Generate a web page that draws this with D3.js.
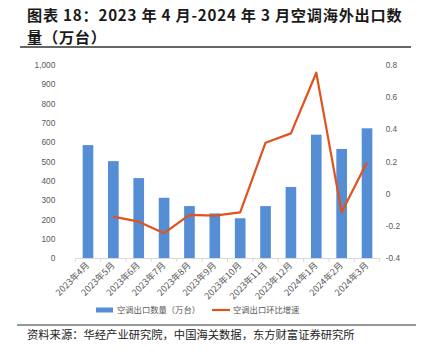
<!DOCTYPE html>
<html><head><meta charset="utf-8">
<script src="https://cdn.jsdelivr.net/npm/d3@7"></script>
<style>
html,body{margin:0;padding:0;background:#fff;}
svg{display:block;font-family:"Noto Sans CJK SC","Noto Sans",sans-serif;}
</style></head>
<body>
<svg id="c" width="423" height="359"></svg>
<script>
const categories = ["2023年4月","2023年5月","2023年6月","2023年7月","2023年8月","2023年9月","2023年10月","2023年11月","2023年12月","2024年1月","2024年2月","2024年3月"];
const exportVolume = [585, 502, 414, 312, 269, 231, 206, 269, 368, 639, 565, 672];
const momGrowth = [null, -0.143, -0.174, -0.246, -0.132, -0.136, -0.116, 0.317, 0.375, 0.752, -0.116, 0.195];
const leftTicks = [0,100,200,300,400,500,600,700,800,900,1000];
const rightTicks = [-0.4,-0.2,0,0.2,0.4,0.6,0.8];
const seriesNames = ["空调出口数量（万台）","空调出口环比增速"];
const titleLines = ["图表 18：2023 年 4 月-2024 年 3 月空调海外出口数","量（万台）"];
const sourceText = "资料来源：华经产业研究院，中国海关数据，东方财富证券研究所";

const svg = d3.select("#c");
const plotL = 75.3, plotR = 379.7, plotT = 65, plotB = 258;
const x = d3.scaleBand().domain(categories).range([plotL, plotR]).paddingInner(0).paddingOuter(0);
const yL = d3.scaleLinear().domain([0,1000]).range([plotB, plotT]);
const yR = d3.scaleLinear().domain([-0.4,0.8]).range([plotB, plotT]);

// title
svg.append("g").selectAll("text").data(titleLines).join("text")
  .attr("x", 27).attr("y", (d,i)=>20.5 + i*22)
  .attr("font-size", 15.2).attr("font-weight", 700).attr("fill", "#1a1a1a")
  .attr("letter-spacing", 0.75)
  .text(d=>d);
svg.append("line").attr("x1",20).attr("x2",411).attr("y1",47).attr("y2",47)
  .attr("stroke","#333").attr("stroke-width",1.3);

// bars
const bw = x.bandwidth()*0.42;
svg.append("g").selectAll("rect").data(exportVolume).join("rect")
  .attr("x",(d,i)=>x(categories[i]) + x.bandwidth()/2 - bw/2)
  .attr("y",d=>yL(d)).attr("width",bw).attr("height",d=>yL(0)-yL(d))
  .attr("fill","#558ed5");

// x axis
const xAxis = d3.axisBottom(x).tickSize(0).tickFormat("");
const gx = svg.append("g").attr("transform",`translate(0,${plotB})`).call(xAxis);
gx.select(".domain").attr("stroke","#d9d9d9");
const edges = categories.map(c=>x(c)).concat([plotR]);
svg.append("g").selectAll("line").data(edges).join("line")
  .attr("x1",d=>d).attr("x2",d=>d).attr("y1",plotB).attr("y2",plotB+4)
  .attr("stroke","#d9d9d9");
svg.append("g").selectAll("text").data(categories).join("text")
  .attr("transform",d=>`translate(${x(d)+x.bandwidth()/2+2},${plotB+8}) rotate(-45)`)
  .attr("text-anchor","end").attr("font-size",9).attr("fill","#595959")
  .text(d=>d);

// left axis
const gl = svg.append("g").attr("transform",`translate(${plotL},0)`)
  .call(d3.axisLeft(yL).tickValues(leftTicks).tickSize(0).tickPadding(20)
  .tickFormat(d3.format(",")));
gl.select(".domain").remove();
gl.selectAll("text").attr("font-size",8.3).attr("fill","#595959").attr("font-family","inherit");

// right axis
const gr = svg.append("g").attr("transform",`translate(${plotR},0)`)
  .call(d3.axisRight(yR).tickValues(rightTicks).tickSize(0).tickPadding(6)
  .tickFormat(d=>d===0?"0":d3.format(".1f")(d).replace("−","-")));
gr.select(".domain").remove();
gr.selectAll("text").attr("font-size",8.3).attr("fill","#595959").attr("font-family","inherit");

// line
const lineData = momGrowth.map((v,i)=>({c:categories[i],v})).filter(d=>d.v!==null);
svg.append("path").datum(lineData)
  .attr("d", d3.line().x(d=>x(d.c)+x.bandwidth()/2).y(d=>yR(d.v)))
  .attr("fill","none").attr("stroke","#e0531f").attr("stroke-width",2.2)
  .attr("stroke-linejoin","round");

// legend
const lg = svg.append("g");
lg.append("rect").attr("x",96).attr("y",307.5).attr("width",17).attr("height",5).attr("fill","#558ed5");
lg.append("text").attr("x",117).attr("y",313).attr("font-size",8.3).attr("fill","#595959").text(seriesNames[0]);
lg.append("line").attr("x1",212).attr("x2",230).attr("y1",310).attr("y2",310).attr("stroke","#e0531f").attr("stroke-width",2.2);
lg.append("text").attr("x",233).attr("y",313).attr("font-size",8.3).attr("fill","#595959").text(seriesNames[1]);

// bottom
svg.append("line").attr("x1",17).attr("x2",416).attr("y1",325).attr("y2",325)
  .attr("stroke","#333").attr("stroke-width",1);
svg.append("text").attr("x",27).attr("y",339).attr("font-size",11.3).attr("fill","#222").text(sourceText);
</script>
</body></html>
